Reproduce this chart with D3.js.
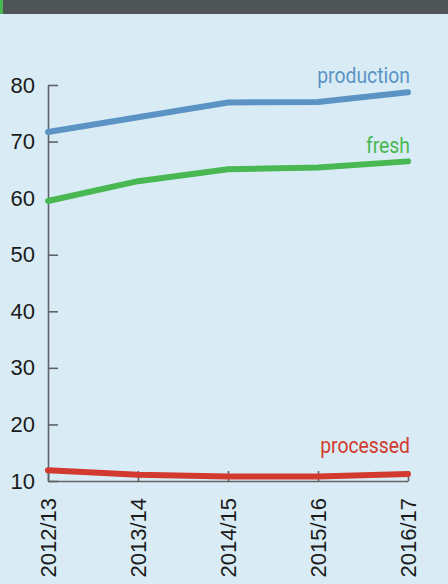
<!DOCTYPE html>
<html>
<head>
<meta charset="utf-8">
<script src="https://cdn.jsdelivr.net/npm/d3@7"></script>
<style>
  html, body { margin: 0; padding: 0; background: #d9ecf5; }
  svg { display: block; }
</style>
</head>
<body>
<svg id="chart" width="448" height="584"></svg>
<script>
// Marketing years
const years = ["2012/13", "2013/14", "2014/15", "2015/16", "2016/17"];

// Series values
const production = [71.7, 74.3, 76.9, 77.0, 78.7];
const fresh = [59.5, 63.0, 65.1, 65.4, 66.5];
const processed = [11.9, 11.1, 10.8, 10.8, 11.25];

// Y axis ticks
const yTicks = [10, 20, 30, 40, 50, 60, 70, 80];

const series = [
  { name: "production", values: production, color: "#5b94c4" },
  { name: "fresh", values: fresh, color: "#49b852" },
  { name: "processed", values: processed, color: "#d33a2f" }
];

// vertical gap between a line's last point and its label baseline
const labelLift = { production: 9, fresh: 8, processed: 21 };

const svg = d3.select("#chart");
const W = 448, H = 584;

// background
svg.append("rect").attr("width", W).attr("height", H).attr("fill", "#d9ecf5");

// header strip
svg.append("rect").attr("x", 0).attr("y", 0).attr("width", W).attr("height", 14).attr("fill", "#4f5456");
svg.append("rect").attr("x", 0).attr("y", 0).attr("width", 3).attr("height", 14).attr("fill", "#49b852");

const x = d3.scalePoint().domain(years).range([48, 408]);
const y = d3.scaleLinear().domain([10, 80]).range([481, 85]);

const axisColor = "#5d6368";
const labelFont = "'Liberation Sans', Arial, sans-serif";

// Y axis
const gy = svg.append("g")
  .attr("transform", "translate(48,0)")
  .call(d3.axisLeft(y).tickValues(yTicks).tickSizeInner(-10).tickSizeOuter(0).tickPadding(13).tickFormat(d3.format("d")));
gy.select(".domain").attr("stroke", axisColor).attr("stroke-width", 1.6);
gy.selectAll(".tick line").attr("stroke", axisColor).attr("stroke-width", 1.6);
gy.selectAll(".tick text")
  .attr("fill", "#1b1b1b")
  .style("font-family", labelFont)
  .style("font-size", "22px");

// X axis
const gx = svg.append("g")
  .attr("transform", "translate(0,481)")
  .call(d3.axisBottom(x).tickSizeInner(-10).tickSizeOuter(0));
gx.select(".domain").attr("stroke", axisColor).attr("stroke-width", 1.6);
gx.selectAll(".tick line").attr("stroke", axisColor).attr("stroke-width", 1.6);
gx.selectAll(".tick text")
  .attr("fill", "#1b1b1b")
  .attr("transform", "rotate(-90)")
  .attr("x", -17)
  .attr("y", 0)
  .attr("dy", "0.35em")
  .attr("text-anchor", "end")
  .style("font-family", labelFont)
  .style("font-size", "22px");

// Lines
const line = d3.line()
  .x((d, i) => x(years[i]))
  .y(d => y(d));

svg.append("g").selectAll("path")
  .data(series)
  .join("path")
  .attr("d", s => line(s.values))
  .attr("fill", "none")
  .attr("stroke", s => s.color)
  .attr("stroke-width", 6)
  .attr("stroke-linecap", "round")
  .attr("stroke-linejoin", "round");

// Series labels at the right end, in a condensed face
svg.append("g").selectAll("g")
  .data(series)
  .join("g")
  .attr("transform", s =>
    `translate(410,${y(s.values[s.values.length - 1]) - labelLift[s.name]}) scale(0.88,1)`)
  .append("text")
  .attr("text-anchor", "end")
  .attr("fill", s => s.color)
  .style("font-family", "Roboto, sans-serif")
  .style("font-size", "22px")
  .text(s => s.name);
</script>
</body>
</html>
